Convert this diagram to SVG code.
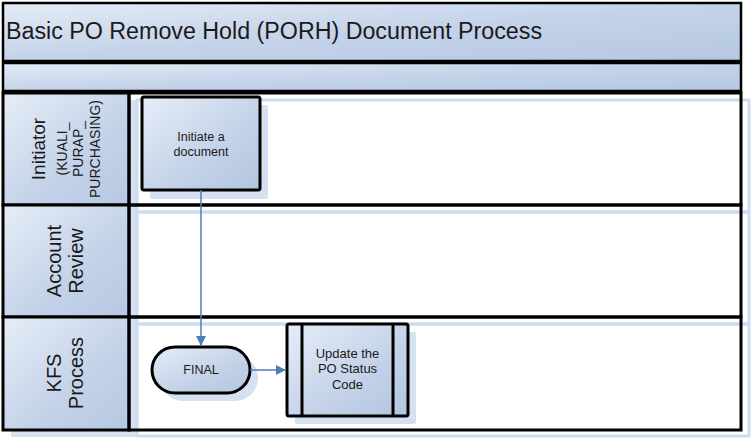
<svg xmlns="http://www.w3.org/2000/svg" width="752" height="440" viewBox="0 0 752 440">
<defs>
<linearGradient id="gBand" x1="0" y1="0" x2="1" y2="1">
<stop offset="0" stop-color="#e4ebf6"/>
<stop offset="0.5" stop-color="#c4d3e9"/>
<stop offset="1" stop-color="#b5c7e2"/>
</linearGradient>
<linearGradient id="gHead" x1="0" y1="0" x2="1" y2="1">
<stop offset="0" stop-color="#e6edf7"/>
<stop offset="0.6" stop-color="#c3d2e8"/>
<stop offset="1" stop-color="#b6c8e2"/>
</linearGradient>
<linearGradient id="gNode" x1="0" y1="0" x2="1" y2="1">
<stop offset="0" stop-color="#e6edf7"/>
<stop offset="0.6" stop-color="#c3d2e8"/>
<stop offset="1" stop-color="#b3c5e0"/>
</linearGradient>
<marker id="arr" viewBox="0 0 10 10" refX="10" refY="5" markerWidth="10" markerHeight="10" markerUnits="userSpaceOnUse" orient="auto">
<path d="M0,0 L10,5 L0,10 Z" fill="#4a7ebb"/>
</marker>
</defs>
<style>
.band{fill:url(#gBand);stroke:#000;stroke-width:2.5}
.head{fill:url(#gHead);stroke:#000;stroke-width:3}
.lane{fill:none;stroke:#000;stroke-width:3}
.lshadow{fill:none;stroke:#cfdcef;stroke-width:3}
.hshadow{fill:#cfdcef;opacity:0.85}
.nshadow{fill:#d5e0f0}
.node{fill:url(#gNode);stroke:#000;stroke-width:3}
.t{font-family:"Liberation Sans",Arial,sans-serif;fill:#1a1a1a}
.conn{fill:none;stroke:#4a7ebb;stroke-width:1.5}
</style>
<rect width="752" height="440" fill="#fff"/>
<g id="title">
<rect class="band" x="3" y="3" width="738" height="58"/>
<text class="t" x="6" y="39" font-size="23" textLength="536" lengthAdjust="spacingAndGlyphs">Basic PO Remove Hold (PORH) Document Process</text>
</g>
<g id="subband">
<rect class="band" x="3" y="63" width="738" height="28"/>
</g>
<g id="lane-shadows">
<rect class="lshadow" x="137" y="100" width="612" height="112"/>
<rect class="lshadow" x="137" y="212" width="612" height="112"/>
<rect class="lshadow" x="137" y="324" width="612" height="112"/>
<rect class="hshadow" x="11" y="100" width="127" height="112"/>
<rect class="hshadow" x="11" y="212" width="127" height="112"/>
<rect class="hshadow" x="11" y="324" width="127" height="113"/>
</g>
<g id="lane-initiator">
<rect class="head" x="3" y="93" width="126" height="112"/>
<rect class="lane" x="129" y="93" width="612" height="112"/>
<g class="t" text-anchor="middle">
<text x="45" y="149" font-size="19" transform="rotate(-90 45 149)">Initiator</text>
<text x="67" y="149" font-size="14" transform="rotate(-90 67 149)">(KUALI_</text>
<text x="83" y="149" font-size="14" transform="rotate(-90 83 149)">PURAP_</text>
<text x="100" y="149" font-size="14" transform="rotate(-90 100 149)">PURCHASING)</text>
</g>
</g>
<g id="lane-account">
<rect class="head" x="3" y="205" width="126" height="112"/>
<rect class="lane" x="129" y="205" width="612" height="112"/>
<g class="t" text-anchor="middle">
<text x="61" y="261" font-size="20" transform="rotate(-90 61 261)">Account</text>
<text x="83" y="261" font-size="20" transform="rotate(-90 83 261)">Review</text>
</g>
</g>
<g id="lane-kfs">
<rect class="head" x="3" y="317" width="126" height="113"/>
<rect class="lane" x="129" y="317" width="612" height="113"/>
<g class="t" text-anchor="middle">
<text x="61" y="373" font-size="20" transform="rotate(-90 61 373)">KFS</text>
<text x="83" y="373" font-size="20" transform="rotate(-90 83 373)">Process</text>
</g>
</g>
<g id="node-initiate">
<rect class="nshadow" x="150" y="105" width="118" height="94" rx="2"/>
<rect class="node" x="142" y="97" width="118" height="93" rx="2"/>
<g class="t" text-anchor="middle" font-size="12.5">
<text x="201" y="141">Initiate a</text>
<text x="201" y="156">document</text>
</g>
</g>
<g id="node-final">
<rect class="nshadow" x="160" y="355" width="98" height="46" rx="23"/>
<rect class="node" x="152" y="347" width="98" height="46" rx="23"/>
<text class="t" x="201" y="374" text-anchor="middle" font-size="12.5">FINAL</text>
</g>
<g id="node-update">
<rect class="nshadow" x="295" y="332" width="121" height="92" rx="2"/>
<rect class="node" x="287" y="324" width="121" height="92" rx="2"/>
<line x1="302" y1="324" x2="302" y2="416" stroke="#000" stroke-width="3"/>
<line x1="393" y1="324" x2="393" y2="416" stroke="#000" stroke-width="3"/>
<g class="t" text-anchor="middle" font-size="13">
<text x="347.5" y="358">Update the</text>
<text x="347.5" y="373">PO Status</text>
<text x="347.5" y="389">Code</text>
</g>
</g>
<g id="connectors">
<path class="conn" d="M201,190 L201,346" marker-end="url(#arr)"/>
<path class="conn" d="M250,370 L286,370" marker-end="url(#arr)"/>
</g>
</svg>
